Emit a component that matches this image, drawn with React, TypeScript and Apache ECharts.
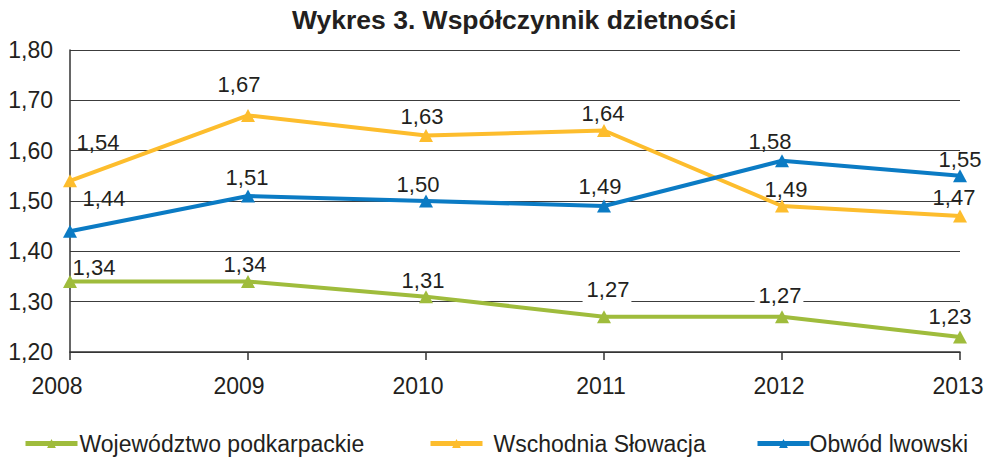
import React, { useEffect, useRef } from "react";
import * as echarts from "echarts";

const years = ["2008", "2009", "2010", "2011", "2012", "2013"];
const podkarpackie = [1.34, 1.34, 1.31, 1.27, 1.27, 1.23];
const slowacja = [1.54, 1.67, 1.63, 1.64, 1.49, 1.47];
const lwowski = [1.44, 1.51, 1.5, 1.49, 1.58, 1.55];
const seriesNames = ["Województwo podkarpackie", "Wschodnia Słowacja", "Obwód lwowski"];
const yTicks = { min: 1.2, max: 1.8, interval: 0.1 };

// label placement (styling only)
const offPodk = [[24, -14], [-3, -17], [-3, -16], [3, -27], [-3, -21], [-10, -20]];
const offSlow = [[28, -38], [-9, -31], [-4, -19], [-1, -17], [4, -17], [-6, -19]];
const offLwow = [[34, -33], [-1, -18], [-8, -17], [-4, -20], [-12, -19], [0, -16]];
const bgPodk = [3, 4];
const xShift = [26, 18, 16, 6, 6, 4];

const FONT = "Liberation Sans, Arial, sans-serif";
const TXT = "#231f20";
const COLORS = ["#9fbc3c", "#fdbd2d", "#0b7bc4"];

const fmt = (v: number) => v.toFixed(2).replace(".", ",");

function build(values: number[], offs: number[][], bg: number[] = []) {
  return values.map((v, i) => ({
    value: v,
    label: bg.includes(i)
      ? { offset: offs[i], backgroundColor: "#ffffff", padding: [0, 2, 3, 4] }
      : { offset: offs[i] },
  }));
}

export default function App() {
  const ref = useRef<HTMLDivElement>(null);
  useEffect(() => {
    if (!ref.current) return;
    const chart = echarts.init(ref.current, null, { renderer: "svg" });
    const mkSeries = (name: string, data: any[], color: string) => ({
      name,
      type: "line",
      data,
      symbol: "triangle",
      symbolSize: [14, 13],
      lineStyle: { width: 4, color },
      itemStyle: { color },
      emphasis: { disabled: true },
      label: {
        show: true,
        position: "inside",
        formatter: (p: any) => fmt(p.value),
        fontSize: 22,
        color: TXT,
        fontFamily: FONT,
      },
    });
    const rich: any = {};
    xShift.forEach((s, i) => {
      rich["s" + i] = { fontSize: 23, color: TXT, fontFamily: FONT, padding: [0, s, 0, 0] };
    });
    const legendBase = {
      top: 427,
      itemWidth: 52,
      itemHeight: 11,
      itemGap: 0,
      selectedMode: false,
    };
    const legendText = (pad: number) => ({
      fontSize: 23,
      color: TXT,
      fontFamily: FONT,
      padding: [0, 0, 0, pad],
    });
    chart.setOption({
      animation: false,
      title: {
        text: "Wykres 3. Współczynnik dzietności",
        left: 292,
        top: 6,
        padding: 0,
        textStyle: { fontSize: 26.5, fontWeight: "bold", color: TXT, fontFamily: FONT },
      },
      legend: [
        { ...legendBase, left: 18, data: [seriesNames[0]], lineStyle: { width: 5, color: COLORS[0] }, textStyle: legendText(-3) },
        { ...legendBase, left: 423, data: [seriesNames[1]], lineStyle: { width: 5, color: COLORS[1] }, textStyle: legendText(6) },
        { ...legendBase, left: 750, data: [seriesNames[2]], lineStyle: { width: 5, color: COLORS[2] }, textStyle: legendText(-5) },
      ],
      grid: { left: 70, right: 33, top: 50, bottom: 106, containLabel: false },
      xAxis: {
        type: "category",
        data: years,
        boundaryGap: false,
        axisLine: { show: true, lineStyle: { color: "#333333", width: 1.5 } },
        axisTick: { show: true, length: 8, lineStyle: { color: "#333333", width: 1.5 } },
        axisLabel: {
          margin: 22,
          fontSize: 23,
          color: TXT,
          fontFamily: FONT,
          formatter: (v: string, i: number) => `{s${i}|${v}}`,
          rich,
        },
        splitLine: { show: false },
      },
      yAxis: {
        type: "value",
        min: yTicks.min,
        max: yTicks.max,
        interval: yTicks.interval,
        axisLine: { show: true, lineStyle: { color: "#333333", width: 1.5 } },
        axisTick: { show: false },
        axisLabel: {
          margin: 17,
          fontSize: 23,
          color: TXT,
          fontFamily: FONT,
          formatter: (v: number) => fmt(v),
        },
        splitLine: { show: true, lineStyle: { color: "#3c3c3c", width: 1.2 } },
      },
      series: [
        mkSeries(seriesNames[0], build(podkarpackie, offPodk, bgPodk), COLORS[0]),
        mkSeries(seriesNames[1], build(slowacja, offSlow), COLORS[1]),
        mkSeries(seriesNames[2], build(lwowski, offLwow), COLORS[2]),
      ],
    });
    return () => chart.dispose();
  }, []);
  return (
    <div
      ref={ref}
      style={{ position: "fixed", left: 0, top: 0, width: 993, height: 458, background: "#ffffff" }}
    />
  );
}
